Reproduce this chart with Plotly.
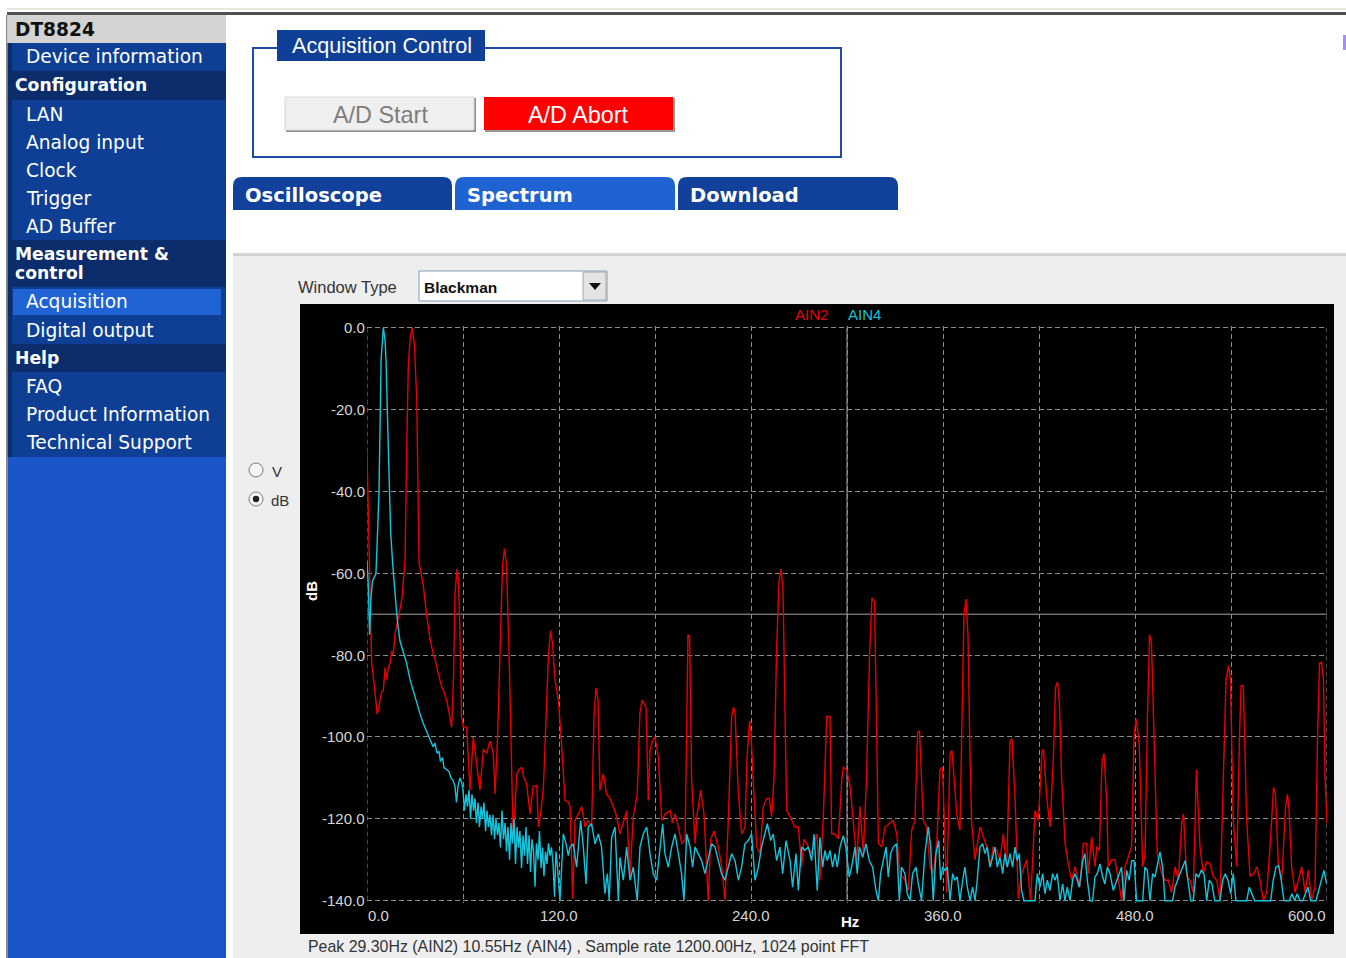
import plotly.graph_objects as go

W, H = 1346, 958

# ---------------- data ----------------
AIN2_HZ = [
    0.0, 1.3, 2.2, 2.9, 3.9, 5.3, 6.4, 7.5, 8.1, 9.2,
    10.2, 11.3, 12.3, 13.3, 14.4, 15.4, 16.4, 17.5, 18.8, 20.0,
    21.9, 23.8, 24.8, 25.8, 27.1, 28.3, 29.6, 31.1, 31.9, 32.5,
    33.8, 35.2, 37.3, 39.4, 41.4, 42.5, 44.6, 46.7, 48.1, 49.8,
    51.3, 52.9, 54.1, 55.0, 56.3, 57.2, 58.1, 59.1, 60.2, 62.3,
    64.4, 66.4, 68.6, 70.6, 72.7, 74.8, 76.9, 78.9, 80.0, 81.6,
    83.1, 84.7, 85.9, 87.2, 88.8, 90.0, 91.4, 93.6, 95.0, 96.7,
    98.1, 99.8, 101.9, 103.9, 106.1, 107.1, 108.8, 110.3, 111.9, 113.4,
    114.7, 115.9, 117.5, 119.6, 121.3, 123.8, 125.8, 126.9, 128.6, 130.0,
    132.1, 134.2, 136.3, 138.3, 140.4, 141.9, 143.1, 144.4, 145.6, 147.7,
    149.8, 151.9, 153.9, 156.1, 158.1, 160.2, 162.3, 164.4, 166.4, 168.9,
    170.6, 171.9, 173.1, 174.4, 175.8, 176.9, 178.4, 180.0, 182.1, 184.2,
    186.3, 189.4, 190.9, 192.5, 194.6, 196.7, 198.8, 199.8, 200.6, 201.6,
    202.9, 205.0, 206.4, 208.6, 210.6, 213.3, 214.8, 216.9, 219.6, 221.7,
    223.8, 225.8, 227.9, 229.1, 230.0, 232.1, 234.2, 236.3, 237.5, 239.1,
    240.0, 241.4, 243.6, 245.6, 247.7, 249.8, 251.4, 252.9, 254.4, 255.9,
    257.5, 258.8, 260.0, 261.3, 262.3, 264.4, 267.5, 269.6, 271.7, 273.1,
    274.8, 277.9, 281.1, 283.1, 285.2, 287.3, 289.4, 290.4, 292.5, 294.6,
    296.7, 297.7, 299.8, 301.9, 303.9, 306.1, 308.1, 310.2, 312.2, 314.1,
    315.6, 317.2, 318.4, 319.6, 321.7, 323.8, 326.9, 328.9, 331.1, 333.1,
    336.3, 338.3, 340.4, 342.5, 344.1, 345.3, 347.7, 349.8, 351.9, 353.9,
    356.1, 358.1, 359.7, 360.9, 362.3, 364.4, 365.6, 368.6, 370.6, 371.9,
    373.1, 374.4, 375.6, 376.9, 377.9, 380.0, 383.1, 385.2, 387.3, 389.4,
    391.4, 393.6, 395.6, 397.7, 399.8, 401.9, 403.1, 405.0, 407.1, 409.2,
    412.3, 414.8, 417.5, 419.6, 421.9, 422.8, 424.8, 426.9, 429.0, 430.3,
    431.6, 432.8, 434.2, 436.3, 438.3, 440.4, 442.5, 444.6, 445.6, 447.7,
    449.8, 450.8, 452.9, 455.0, 456.1, 457.7, 459.4, 460.6, 462.3, 463.3,
    465.4, 467.5, 469.6, 471.7, 473.8, 475.8, 477.9, 479.4, 480.6, 481.9,
    482.7, 484.8, 486.3, 487.8, 489.1, 490.3, 491.6, 492.5, 493.9, 496.7,
    498.8, 500.8, 502.9, 505.0, 507.1, 509.2, 510.3, 512.3, 514.4, 516.4,
    518.4, 520.6, 522.7, 524.8, 526.9, 528.9, 531.1, 533.1, 535.0, 536.9,
    538.4, 539.7, 541.4, 543.6, 545.3, 546.3, 547.7, 548.8, 549.8, 551.9,
    554.1, 556.1, 558.1, 560.2, 562.3, 564.4, 566.6, 567.8, 569.6, 571.7,
    574.1, 575.3, 576.3, 577.9, 580.0, 582.1, 584.2, 586.3, 588.3, 590.4,
    592.5, 594.1, 595.3, 596.6, 597.8, 598.8, 600.0,
]
AIN2_DB = [
    -30.5, -58, -72, -82, -85, -90, -94.4, -93, -91, -89,
    -88.7, -83, -86, -83, -82, -79, -80, -75, -72, -70,
    -66, -56.6, -30, -9.4, -2, 0, -4, -17.6, -40, -57.4,
    -60, -63, -70.4, -76, -79.8, -81, -84.6, -87.8, -89, -91,
    -94, -97.6, -85, -65, -59, -62, -75, -95, -97.6, -97.6,
    -113, -100, -106.7, -113, -103, -104, -101, -104, -114, -100,
    -80, -58, -54, -58, -80, -105, -125, -109, -108, -107.4,
    -110, -111.5, -118.8, -112, -111.9, -122, -118, -112, -95, -80,
    -74, -77, -86, -91, -100, -115.5, -115.9, -117, -139.5, -120.4,
    -118.8, -117, -122, -120.4, -122, -95, -88, -91, -113, -109,
    -114, -115, -117, -119.5, -123.7, -121, -118, -134, -119.5, -114,
    -94, -91, -92, -92.7, -115.5, -103.3, -101, -100, -105, -120.4,
    -118.8, -118, -121, -118.8, -122, -126, -125.3, -95, -75, -75.5,
    -110.6, -126, -118.8, -113, -118.8, -140, -125, -123, -127, -131.7,
    -140, -120.4, -95, -92.7, -94, -114, -123.7, -122, -105, -96,
    -99, -110.6, -126.8, -128.5, -117, -115, -115, -119.5, -110, -80,
    -62, -59, -64, -95, -118, -119.5, -122, -122, -131.7, -125,
    -126, -128.5, -123.7, -135, -119.5, -95, -95, -123.7, -123.7, -124.9,
    -110.6, -107.4, -108, -112, -120.4, -130, -117, -128.5, -110, -80,
    -66, -67, -95, -126, -126.8, -122, -121, -120.4, -123.7, -133.4,
    -135, -137.5, -122.8, -120.4, -99, -98.5, -120.4, -122, -131.7, -133.4,
    -126, -108, -107.4, -120, -138, -104, -103.3, -118.8, -122.8, -95,
    -70, -66.3, -75, -105, -121, -130, -122, -124.4, -126.8, -131.7,
    -126.8, -127.7, -130, -123.7, -131.7, -101, -100.5, -114.7, -139.5, -133.4,
    -130, -140, -118, -120.4, -103.5, -103, -114.7, -122, -105, -88,
    -86.6, -92, -110.6, -126, -131, -135, -131.7, -135, -136.6, -126,
    -126, -133.4, -124.4, -131.7, -126.8, -127.7, -106, -104, -115.5, -131.7,
    -130, -130, -135, -140, -131.7, -129.4, -126.8, -100, -95.6, -99,
    -102.4, -131.7, -128.5, -95, -75, -77, -95, -110.6, -128.5, -133.4,
    -135, -135, -138, -131.7, -135, -121, -118.8, -134, -135, -138,
    -108, -126.8, -133.4, -130.5, -131, -134, -135, -140, -110, -86,
    -82.6, -86, -120.4, -131.7, -100, -87.5, -87.5, -105, -120.4, -134,
    -133.4, -131.7, -135, -140, -138, -126.8, -112.3, -114, -131, -135,
    -117, -114, -118, -131.7, -138, -135, -131.7, -138, -132.6, -140,
    -136.6, -100, -82, -81.8, -86, -110, -121,
]

AIN4_HZ = [
    0.0, 0.8, 1.6, 2.5, 3.4, 4.4, 5.6, 6.6, 7.5, 8.8,
    10.2, 11.3, 11.9, 13.3, 14.8, 16.1, 17.2, 18.6, 19.4, 20.6,
    22.5, 24.8, 26.9, 28.8, 30.9, 33.1, 35.0, 37.3, 38.8, 40.0,
    41.3, 42.5, 43.8, 45.0, 45.9, 47.2, 48.1, 49.8, 51.3, 52.5,
    53.8, 55.0, 55.9, 56.9, 58.1, 59.1, 60.0, 60.9, 61.9, 62.8,
    63.8, 64.7, 65.6, 66.6, 67.5, 68.4, 69.4, 70.3, 71.3, 72.2,
    73.1, 74.1, 75.0, 75.9, 76.9, 77.8, 78.8, 79.7, 80.6, 81.6,
    82.5, 83.4, 84.4, 85.3, 86.3, 87.2, 88.1, 89.1, 90.0, 90.9,
    91.9, 92.8, 93.8, 94.7, 95.6, 96.6, 97.5, 98.4, 99.4, 100.3,
    101.3, 102.2, 103.1, 104.1, 105.0, 105.9, 106.9, 107.8, 108.8, 109.7,
    110.6, 111.6, 112.5, 113.4, 114.4, 115.3, 116.3, 117.2, 118.1, 119.1,
    120.6, 122.7, 124.4, 125.8, 126.9, 128.9, 131.0, 132.1, 133.5, 135.2,
    136.9, 138.3, 140.4, 142.5, 144.6, 146.6, 148.7, 150.2, 151.4, 152.9,
    155.0, 157.1, 158.1, 160.2, 162.3, 164.4, 166.4, 168.9, 170.6, 172.7,
    174.8, 176.9, 178.9, 181.0, 183.1, 184.8, 186.2, 188.3, 190.4, 192.5,
    194.6, 196.6, 198.1, 199.8, 201.9, 203.5, 205.0, 207.1, 209.1, 211.2,
    213.3, 215.4, 217.5, 219.6, 221.6, 223.7, 225.8, 227.9, 230.0, 232.1,
    234.1, 236.2, 238.3, 240.4, 242.5, 244.6, 246.6, 248.7, 250.2, 252.3,
    253.9, 256.0, 258.1, 259.8, 261.9, 264.4, 266.0, 268.1, 269.6, 271.6,
    273.7, 275.8, 277.9, 279.4, 281.4, 283.1, 284.8, 286.2, 287.7, 289.4,
    291.0, 292.5, 293.9, 295.6, 297.7, 299.3, 301.4, 302.9, 305.0, 306.4,
    307.7, 309.8, 311.9, 313.9, 316.0, 318.1, 319.6, 321.0, 322.7, 324.4,
    325.8, 327.3, 328.9, 331.0, 332.7, 334.1, 336.2, 337.7, 339.4, 341.0,
    343.1, 344.6, 346.6, 348.7, 350.8, 352.3, 353.9, 355.6, 357.3, 358.5,
    359.8, 361.2, 362.7, 364.4, 366.0, 367.5, 368.9, 370.6, 372.3, 373.7,
    375.2, 376.9, 378.5, 380.0, 381.4, 383.1, 384.8, 386.2, 387.7, 389.4,
    391.0, 392.5, 393.9, 395.6, 397.3, 398.7, 400.2, 401.9, 403.5, 405.0,
    406.4, 407.7, 409.1, 410.6, 412.3, 414.4, 417.5, 418.9, 420.6, 422.3,
    423.7, 425.2, 426.9, 428.5, 430.0, 431.4, 433.1, 434.8, 436.2, 437.7,
    439.4, 441.0, 442.5, 443.9, 445.2, 447.3, 448.7, 450.2, 451.9, 453.5,
    455.0, 456.4, 458.1, 459.8, 461.2, 462.7, 464.4, 466.4, 468.5, 470.2,
    471.6, 473.1, 474.8, 476.4, 477.9, 479.4, 481.0, 482.7, 484.8, 486.2,
    487.7, 489.4, 491.0, 492.5, 493.9, 495.6, 497.3, 498.7, 500.2, 501.9,
    503.5, 505.0, 506.4, 508.1, 509.8, 511.4, 513.1, 514.8, 516.4, 518.1,
    519.8, 521.4, 523.1, 524.8, 526.4, 528.1, 529.8, 531.4, 533.1, 534.8,
    536.4, 538.1, 539.8, 541.4, 543.1, 544.8, 546.4, 548.1, 549.8, 551.4,
    553.1, 554.8, 556.4, 558.1, 559.8, 561.4, 563.1, 564.8, 566.4, 568.1,
    569.8, 571.4, 573.1, 574.8, 576.4, 578.1, 579.8, 581.4, 583.1, 584.8,
    586.4, 588.1, 589.8, 591.4, 593.1, 594.8, 596.4, 598.1, 599.8,
]
AIN4_DB = [
    -57, -63, -75, -66, -62, -61, -60, -50, -40, -8,
    0, -3, -8, -29, -50, -58, -64, -70, -73, -76.5,
    -79, -82, -86, -88.7, -91.5, -94.3, -96.5, -98.5, -100, -101,
    -102.4, -101.5, -104, -103.5, -106, -105, -107.5, -108, -108.5, -110,
    -110.6, -112, -116, -112, -110, -111, -113, -118, -114, -117,
    -113, -120, -114, -118, -115, -121, -116, -122, -117, -120,
    -116, -123, -118, -122, -119, -124, -119, -125, -120, -124,
    -121, -127, -118, -125, -121, -128, -122, -130, -121, -126,
    -120, -131, -122, -127, -123, -132, -124, -129, -122, -131,
    -124, -133, -125, -128, -136.6, -126, -130, -123, -132, -127,
    -134, -128, -131, -126, -129, -127, -131, -139, -128, -132,
    -140, -123.7, -126.1, -129, -126.9, -126.1, -131.8, -126.9, -120.4, -126.9,
    -135.9, -122, -121.2, -126.1, -123.7, -126.9, -138.3, -133.4, -140, -124.5,
    -122, -140, -129.4, -135, -126.9, -135, -131.8, -140, -126.9, -123.7,
    -122, -128.5, -133.4, -135, -126.9, -121.2, -128.5, -131.8, -126.9, -123.7,
    -128.5, -133.4, -140, -123.7, -126.9, -131.8, -126.9, -128.5, -130.2, -133.4,
    -129.4, -126.1, -126.9, -130.2, -133.4, -135, -131.8, -128.5, -130.2, -135,
    -131.8, -126.1, -125.3, -123.7, -135, -131.8, -126.9, -123.7, -121.2, -125.3,
    -123.7, -130.2, -126.9, -133.4, -125.3, -130.2, -136.7, -128.5, -137.5, -126.9,
    -127.7, -126.9, -130.2, -123.7, -137.5, -124.5, -131.8, -127.7, -130.2, -127.7,
    -131.8, -128.5, -131.8, -126.9, -124.1, -126.9, -134.2, -131.8, -126.9, -133.4,
    -126.9, -129.4, -126.1, -130.2, -131.8, -137.5, -140, -133.4, -130.2, -126.9,
    -134.2, -128.5, -126.9, -126.1, -140, -131.8, -133.4, -138.3, -140, -133.4,
    -131.8, -135.9, -140, -128.5, -122, -126.9, -140, -128.5, -125.3, -135,
    -131.8, -132.6, -131.8, -140, -133.4, -135, -134.2, -140, -135, -131.8,
    -136.7, -140, -136.7, -140, -135, -126.9, -126.1, -128.5, -126.9, -131.8,
    -129.4, -126.9, -131.8, -129.4, -133.4, -128.5, -131.8, -128.5, -131.8, -126.9,
    -130.2, -128.5, -137.5, -140, -140, -140, -140, -133.4, -136.7, -133.4,
    -138.3, -135, -137.5, -133.4, -135, -133.4, -140, -135.9, -140, -136.7,
    -140, -135, -133.4, -135, -136.7, -130.2, -128.5, -135, -140, -140,
    -134.2, -133.4, -131, -134.2, -135.9, -131.8, -133.4, -137.5, -135, -133.4,
    -131.8, -140, -132.6, -135, -130.2, -130.2, -140, -140, -140, -131.8,
    -132.6, -140, -133.4, -134.2, -131.8, -128.1, -131.8, -140, -140, -140,
    -140, -136.7, -135, -133.4, -131.8, -130.2, -135, -140, -140, -133.4,
    -134.2, -132.6, -133.4, -140, -135, -135.9, -140, -140, -140, -135,
    -133.4, -135, -138.3, -133.4, -140, -140, -140, -140, -140, -136.7,
    -138.3, -140, -140, -140, -140, -140, -140, -140, -135, -131.8,
    -131.4, -135, -140, -140, -140, -138.3, -140, -138.3, -140, -140,
    -138.3, -136.7, -140, -140, -140, -137.5, -135, -132.6, -135.9,
]

SERIES_NAMES = ["AIN2", "AIN4"]
SERIES_COLORS = ["#e60000", "#14c4dc"]

X_GRID = [0, 60, 120, 180, 240, 300, 360, 420, 480, 540, 600]
X_TICKS = [0, 120, 240, 360, 480, 600]
X_TICK_LABELS = ["0.0", "120.0", "240.0", "360.0", "480.0", "600.0"]
Y_TICKS = [0, -20, -40, -60, -80, -100, -120, -140]
Y_TICK_LABELS = ["0.0", "-20.0", "-40.0", "-60.0", "-80.0", "-100.0", "-120.0", "-140.0"]

MENU = [
    ("DT8824", "title"), ("Device information", "item"), ("Configuration", "head"),
    ("LAN", "item"), ("Analog input", "item"), ("Clock", "item"), ("Trigger", "item"),
    ("AD Buffer", "item"), ("Measurement &|control", "head2"), ("Acquisition", "active"),
    ("Digital output", "item"), ("Help", "head"), ("FAQ", "item"),
    ("Product Information", "item"), ("Technical Support", "item"),
]
TABS = ["Oscilloscope", "Spectrum", "Download"]
STATUS = "Peak 29.30Hz (AIN2) 10.55Hz (AIN4) , Sample rate 1200.00Hz, 1024 point FFT"

# ---------------- helpers ----------------
def X(px):
    return px / W

def Y(py):
    return 1 - py / H

shapes = []
anns = []

def rect(x0, y0, x1, y1, fill, line=None, lw=0, layer="below"):
    shapes.append(dict(type="rect", xref="paper", yref="paper",
                       x0=X(x0), x1=X(x1), y0=Y(y1), y1=Y(y0),
                       fillcolor=fill, layer=layer,
                       line=dict(color=line if line else fill, width=lw)))

def path(d, fill, line=None, lw=0, layer="below"):
    shapes.append(dict(type="path", xref="paper", yref="paper", path=d,
                       fillcolor=fill, layer=layer,
                       line=dict(color=line if line else fill, width=lw)))

def circle(cx, cy, r, fill, line=None, lw=0, layer="above"):
    shapes.append(dict(type="circle", xref="paper", yref="paper",
                       x0=X(cx - r), x1=X(cx + r), y0=Y(cy + r), y1=Y(cy - r),
                       fillcolor=fill, layer=layer,
                       line=dict(color=line if line else fill, width=lw)))

def text(s, x, y, size, color, family="DejaVu Sans", xanchor="left", bold=False, angle=0):
    anns.append(dict(text=f"<b>{s}</b>" if bold else s, x=X(x), y=Y(y),
                     xref="paper", yref="paper", xanchor=xanchor, yanchor="middle",
                     align="left" if xanchor == "left" else "center",
                     showarrow=False, textangle=angle, borderpad=0,
                     font=dict(size=size, color=color, family=family)))

def tab_path(x0, y0, x1, y1, r=9):
    return (f"M {X(x0)},{Y(y1)} L {X(x0)},{Y(y0 + r)} Q {X(x0)},{Y(y0)} {X(x0 + r)},{Y(y0)} "
            f"L {X(x1 - r)},{Y(y0)} Q {X(x1)},{Y(y0)} {X(x1)},{Y(y0 + r)} L {X(x1)},{Y(y1)} Z")

# ---------------- page chrome ----------------
rect(7, 8, W, 10, "#e9e7da")
rect(7, 12, W, 15, "#4f4f4f")
rect(6, 15, 7.5, H, "#8a8a8a")

# sidebar
rect(7.5, 15, 226, 43, "#d3d3d3")
rect(7.5, 43, 226, 457, "#0b2d6c")
rect(7.5, 457, 226, H, "#1b56c9")
row_tops = [15, 43, 71, 100, 128, 156, 184, 212, 240, 287, 316, 344, 372, 400, 428]
row_bots = [43, 71, 100, 128, 156, 184, 212, 240, 287, 316, 344, 372, 400, 428, 457]
for (label, kind), t, b in zip(MENU, row_tops, row_bots):
    cy = (t + b) / 2
    if kind == "title":
        text(label, 14, cy + 1, 18.6, "#111111", bold=True)
    elif kind == "head":
        text(label, 14, cy, 17.2, "#ffffff", bold=True)
    elif kind == "head2":
        first, second = label.split("|")
        text(first, 14, t + 14, 17.2, "#ffffff", bold=True)
        text(second, 14, t + 33, 17.2, "#ffffff", bold=True)
    else:
        rect(12, t, 226, b, "#0e3f95")
        if kind == "active":
            rect(13, t + 2, 221, b - 1, "#1f63d4")
        text(label, 25, cy, 18.6, "#ffffff")

# acquisition control box
rect(253, 48, 841, 157, "rgba(0,0,0,0)", line="#1f4aa8", lw=2)
rect(277, 30, 485, 61, "#0f3f96")
text("Acquisition Control", 291, 46, 21.6, "#ffffff", family="Liberation Sans")
# buttons
rect(286, 98, 476, 132, "#8c8c8c")
rect(285, 97, 474, 130, "#efefef", line="#d8d8d8", lw=1)
text("A/D Start", 380, 115, 23.4, "#7d7d7d", family="Liberation Sans", xanchor="center")
rect(485, 98, 675, 132, "#9a9a9a")
rect(484, 97, 673, 130, "#ff0000")
text("A/D Abort", 578, 115, 23.4, "#ffffff", family="Liberation Sans", xanchor="center")

# tabs
tab_x = [(233, 452), (455, 675), (678, 898)]
tab_fill = ["#11419b", "#1f63d3", "#11419b"]
for name, (a, b), f in zip(TABS, tab_x, tab_fill):
    path(tab_path(a, 177, b, 210), f)
    text(name, a + 11, 195, 19.5, "#ffffff", bold=True)

# gray panel
rect(233, 253, W, H, "#eeeeee")
rect(233, 253, W, 256, "#d2d2d2")

# window type selector
text("Window Type", 297, 287, 16.5, "#333333", family="Liberation Sans")
rect(419, 271, 607, 301, "#ffffff", line="#7f9db9", lw=1)
rect(583, 272, 606, 300, "#e4e4e4", line="#a8a8a8", lw=1)
path(f"M {X(589)},{Y(283)} L {X(601)},{Y(283)} L {X(595)},{Y(290)} Z", "#111111")
text("Blackman", 423, 287, 15.5, "#111111", family="Liberation Sans", bold=True)

# radio buttons
circle(256, 470, 7, "#f5f5f5", line="#7a7a7a", lw=1)
circle(256, 499, 7, "#f5f5f5", line="#7a7a7a", lw=1)
circle(256, 499, 3.2, "#222222")
text("V", 271, 471, 15, "#333333", family="Liberation Sans")
text("dB", 270, 500, 15, "#333333", family="Liberation Sans")

# top-right fragment
rect(1343, 35, 1346, 50, "#a58ef0")

# black chart frame
rect(300, 304, 1334, 934, "#000000")

# status line
text(STATUS, 307, 946, 15.9, "#333333", family="Liberation Sans")

# ---------------- chart ----------------
fig = go.Figure()
for name, xs, ys, col in zip(SERIES_NAMES, [AIN2_HZ, AIN4_HZ], [AIN2_DB, AIN4_DB], SERIES_COLORS):
    fig.add_trace(go.Scatter(x=xs, y=ys, mode="lines", name=name,
                             line=dict(color=col, width=1.4), hoverinfo="skip"))

GRID_COL = "#8c8c8c"
# dashed grid lines on the x-range edges (plotly skips those)
for xv in (X_GRID[0], X_GRID[-1]):
    shapes.append(dict(type="line", xref="x", yref="y", x0=xv, x1=xv, y0=-140, y1=0,
                       line=dict(color=GRID_COL, width=1, dash="5px,3px"), layer="below"))
# centre cross-hair lines
shapes.append(dict(type="line", xref="x", yref="y", x0=300, x1=300, y0=-140, y1=0,
                   line=dict(color="#a6a6a6", width=1), layer="below"))
shapes.append(dict(type="line", xref="x", yref="y", x0=0, x1=600, y0=-70, y1=-70,
                   line=dict(color="#a6a6a6", width=1), layer="below"))

LBL = "#d6d6d6"
for v, lab in zip(X_TICKS, X_TICK_LABELS):
    anchor = "left" if v == X_TICKS[0] else ("right" if v == X_TICKS[-1] else "center")
    anns.append(dict(text=lab, x=v, xref="x", y=Y(915), yref="paper", xanchor=anchor,
                     yanchor="middle", showarrow=False, borderpad=0,
                     font=dict(size=15, color=LBL, family="Liberation Sans")))
for v, lab in zip(Y_TICKS, Y_TICK_LABELS):
    anns.append(dict(text=lab, x=X(366), xref="paper", y=v, yref="y", xanchor="right",
                     yanchor="middle", showarrow=False, borderpad=0,
                     font=dict(size=15, color=LBL, family="Liberation Sans")))

text("Hz", 850, 921, 15, "#ffffff", family="Liberation Sans", xanchor="center", bold=True)
text("dB", 311, 591, 15, "#ffffff", family="Liberation Sans", xanchor="center", bold=True, angle=-90)
text(SERIES_NAMES[0], 811, 314, 15, SERIES_COLORS[0], family="Liberation Sans", xanchor="center")
text(SERIES_NAMES[1], 864, 314, 15, SERIES_COLORS[1], family="Liberation Sans", xanchor="center")

PX_PER_DB = (900.7 - 327.7) / 140.0
y_lo, y_hi = -140.6, 0.4
dom_bot = 900.7 + (-140 - y_lo) * PX_PER_DB
dom_top = 327.7 - (y_hi - 0) * PX_PER_DB

grid = dict(showgrid=True, gridcolor=GRID_COL, gridwidth=1, griddash="5px,3px",
            zeroline=False, showline=False, ticks="", showticklabels=False)
fig.update_layout(
    width=W, height=H, margin=dict(l=0, r=0, t=0, b=0),
    paper_bgcolor="#ffffff", plot_bgcolor="#000000",
    showlegend=False,
    xaxis=dict(domain=[X(367), X(1327)], range=[0, 600], tickvals=X_GRID, **grid),
    yaxis=dict(domain=[Y(dom_bot), Y(dom_top)], range=[y_lo, y_hi], tickvals=Y_TICKS, **grid),
    shapes=shapes, annotations=anns,
)

fig.write_html("out.html", config={"displayModeBar": False},
               post_script="document.body.style.margin='0';document.body.style.overflow='hidden';")
